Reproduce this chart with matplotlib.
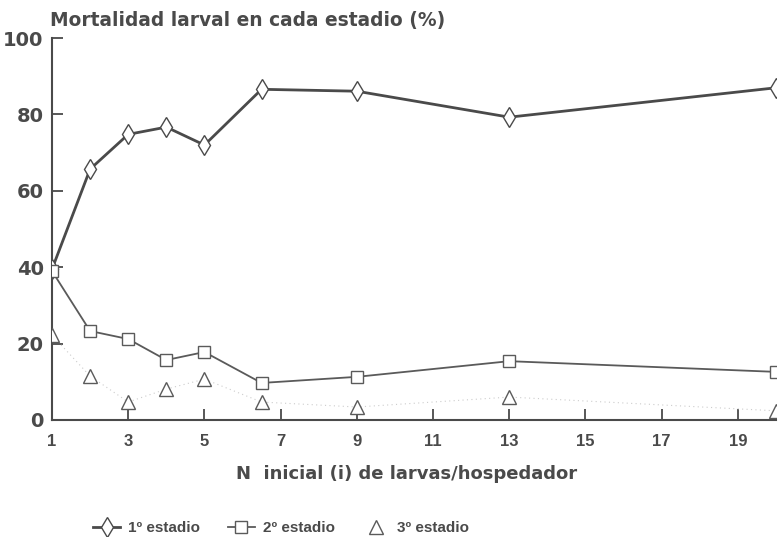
import matplotlib
matplotlib.use("Agg")
import matplotlib.pyplot as plt

x = [1, 2, 3, 4, 5, 6.5, 9, 13, 20]
est1 = [39.5, 65.7, 74.8, 76.7, 72.0, 86.6, 86.1, 79.3, 87.0]
est2 = [39.0, 23.3, 21.2, 15.7, 17.8, 9.7, 11.3, 15.4, 12.6]
est3 = [22.2, 11.5, 4.7, 8.1, 10.7, 4.7, 3.4, 6.0, 2.4]
xticks = [1, 3, 5, 7, 9, 11, 13, 15, 17, 19]
yticks = [0, 20, 40, 60, 80, 100]

ink = "#4a4a4a"
plt.rcParams['font.family'] = ['Liberation Sans', 'DejaVu Sans']

fig = plt.figure(figsize=(7.81, 5.37), dpi=100)
ax = fig.add_axes([0.0666, 0.2179, 0.927, 0.7111])

l1, = ax.plot(x, est1, color=ink, lw=2.0, marker='d', ms=10, mfc='white',
              mec=ink, mew=1.0, label='1º estadio', zorder=3)
l2, = ax.plot(x, est2, color="#5a5a5a", lw=1.3, marker='s', ms=9, mfc='white',
              mec="#5a5a5a", mew=1.0, label='2º estadio', zorder=3)
ax.plot(x, est3, color="#cccccc", lw=0.8, ls=(0, (1, 3)), zorder=2)
l3, = ax.plot(x, est3, ls='none', marker='^', ms=10, mfc='white',
              mec="#5a5a5a", mew=1.0, label='3º estadio', zorder=3)

ax.set_xlim(1, 20)
ax.set_ylim(0, 100)
ax.set_xticks(xticks)
ax.set_yticks(yticks)
for s in ['top', 'right']:
    ax.spines[s].set_visible(False)
for s in ['left', 'bottom']:
    ax.spines[s].set_color(ink)
    ax.spines[s].set_linewidth(1.5)
ax.tick_params(axis='both', direction='in', length=8, width=1.3, color=ink)
ax.tick_params(axis='y', labelsize=14, pad=6, labelcolor=ink)
ax.tick_params(axis='x', labelsize=12, pad=10, labelcolor=ink)
for lab in ax.get_yticklabels():
    lab.set_fontweight('bold')
    lab.set_family(['DejaVu Sans'])
for lab in ax.get_xticklabels():
    lab.set_fontweight('bold')

fig.text(0.064, 0.962, 'Mortalidad larval en cada estadio (%)', fontsize=13.4,
         fontweight='bold', color=ink, ha='left', va='center',
         family=['DejaVu Sans'])
fig.text(0.52, 0.117, 'N  inicial (i) de larvas/hospedador', fontsize=13,
         fontweight='bold', color=ink, ha='center', va='center',
         family=['DejaVu Sans'])

leg = fig.legend(handles=[l1, l2, l3], loc='center', bbox_to_anchor=(0.36, 0.016),
                 ncol=3, frameon=False, fontsize=11, handlelength=1.8,
                 columnspacing=1.8, handletextpad=0.5, borderpad=0)
for t in leg.get_texts():
    t.set_color(ink)
    t.set_fontweight('bold')

fig.savefig('out.png', dpi=100)
